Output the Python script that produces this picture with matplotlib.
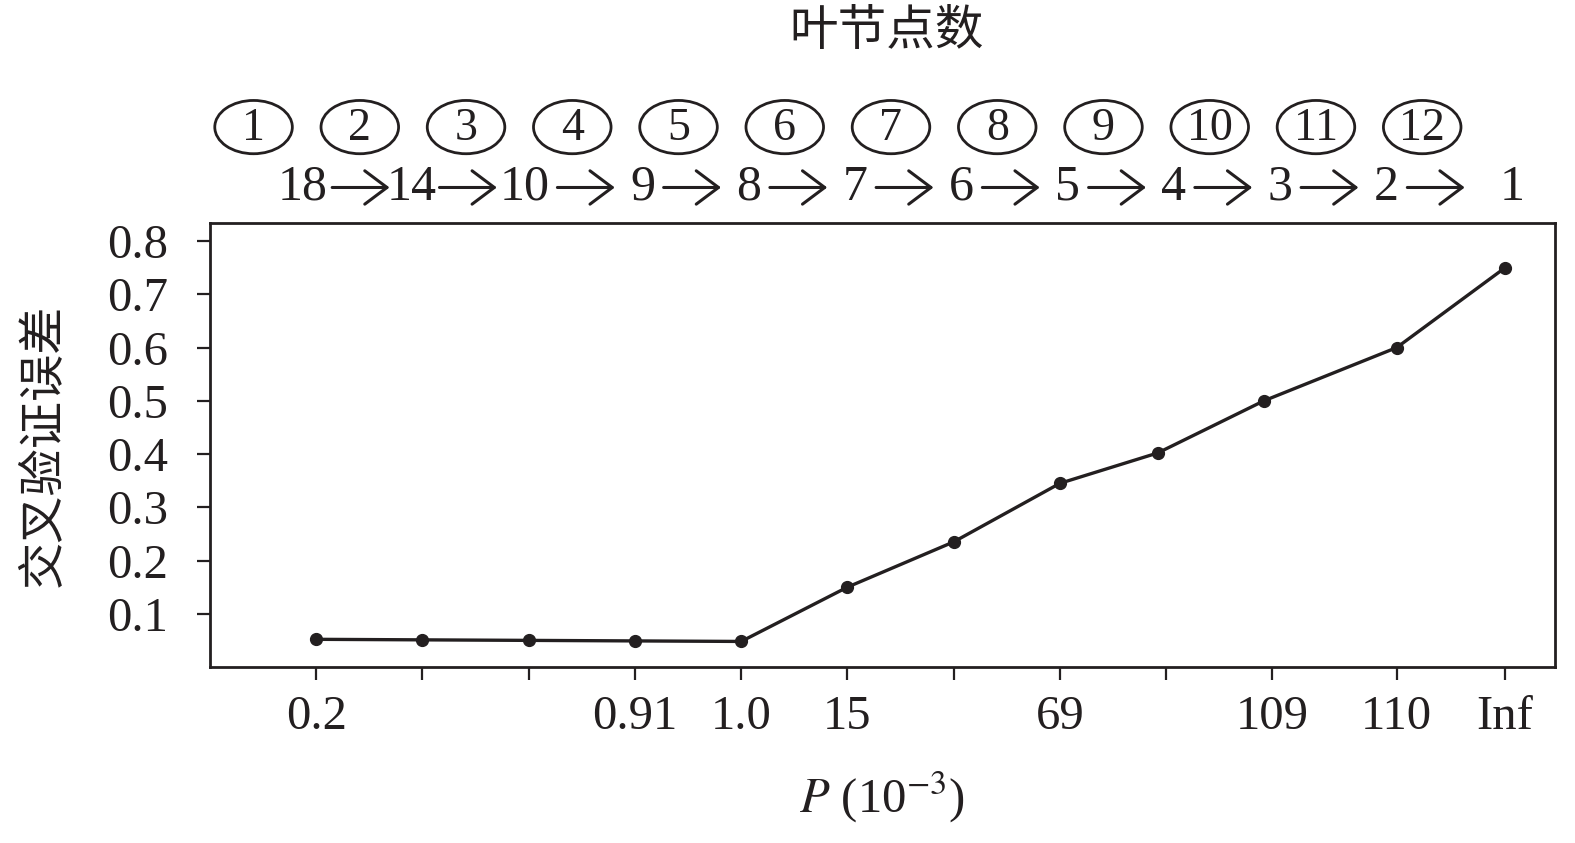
import matplotlib
matplotlib.use("Agg")
import matplotlib.pyplot as plt
from matplotlib.patches import Ellipse
from matplotlib.transforms import blended_transform_factory

# ---------------- data ----------------
x_tick_labels = ['0.2', '', '', '0.91', '1.0', '15', '', '69', '', '109', '110', 'Inf']
cv_error = [0.052, 0.051, 0.050, 0.049, 0.048, 0.150, 0.235, 0.345, 0.402, 0.500, 0.600, 0.750]
leaf_counts = ['18', '14', '10', '9', '8', '7', '6', '5', '4', '3', '2', '1']
step_numbers = ['1', '2', '3', '4', '5', '6', '7', '8', '9', '10', '11', '12']
y_ticks = [0.1, 0.2, 0.3, 0.4, 0.5, 0.6, 0.7, 0.8]

# ---------------- layout (positions along x axis) ----------------
point_pos = [0, 1, 2, 3, 4, 5, 6, 7, 7.92, 8.92, 10.17, 11.19]
tick_pos = [0, 1, 2, 3, 4, 5, 6, 7, 8, 9, 10.17, 11.19]
leaf_pos = [-0.13, 0.90, 1.96] + [i + 0.07 for i in range(3, 11)] + [11.26]
arrow_pos = [0.42, 1.43] + [i + 0.54 for i in range(2, 11)]
circle_pos = [-0.59 + i for i in range(12)]

INK = '#231f20'
SERIF = ['Liberation Serif', 'DejaVu Serif']
CJK = ['Noto Sans CJK SC', 'DejaVu Sans']

plt.rcParams['font.family'] = SERIF
plt.rcParams['mathtext.fontset'] = 'stix'

fig = plt.figure(figsize=(15.75, 8.43), dpi=100)
ax = fig.add_axes([210 / 1575, 1 - 667 / 843, 1345 / 1575, 444 / 843])

ax.plot(point_pos, cv_error, color=INK, lw=2.4, marker='o', ms=8.5,
        markerfacecolor=INK, markeredgecolor=INK, zorder=3)

ax.set_xlim(-1.0, 11.66)
ax.set_ylim(0.0, 0.834)

ax.set_xticks(tick_pos)
ax.set_xticklabels(x_tick_labels)
ax.set_yticks(y_ticks)
ax.set_yticklabels([f'{v:.1f}' for v in y_ticks])

for s in ax.spines.values():
    s.set_linewidth(2.0)
    s.set_color(INK)

ax.tick_params(axis='both', direction='out', length=9.5, width=1.6, colors=INK,
               labelsize=35, labelcolor=INK)
ax.tick_params(axis='y', pad=21)
ax.tick_params(axis='x', pad=11)

ax.set_xlabel(r'$P$ (10$^{-3}$)', fontsize=35, color=INK, labelpad=22)
ax.set_ylabel('交叉验证误差', fontsize=34, color=INK, family=CJK)
ax.yaxis.set_label_coords(-0.106, 0.5)

# top annotations
trans = blended_transform_factory(ax.transData, ax.transAxes)
for xp, num in zip(circle_pos, step_numbers):
    e = Ellipse((xp, 1.216), width=0.73, height=0.12, transform=trans,
                fill=False, edgecolor=INK, lw=2.0, clip_on=False)
    ax.add_patch(e)
    ax.text(xp, 1.212, num, transform=trans, ha='center', va='center',
            fontsize=33, color=INK, clip_on=False)

for xp, lc in zip(leaf_pos, leaf_counts):
    ax.text(xp, 1.080, lc, transform=trans, ha='center', va='center',
            fontsize=36, color=INK, clip_on=False)

for xp in arrow_pos:
    ax.annotate('', xy=(xp + 0.27, 1.080), xytext=(xp - 0.27, 1.080),
                xycoords=trans, textcoords=trans,
                arrowprops=dict(arrowstyle='->,head_length=0.8,head_width=0.6',
                                mutation_scale=20, lw=2.2, color=INK,
                                shrinkA=0, shrinkB=0),
                annotation_clip=False)

ax.text(0.503, 1.432, '叶节点数', transform=ax.transAxes, ha='center', va='center',
        fontsize=35, color=INK, family=CJK)

fig.savefig('out.png', dpi=100, facecolor='white')
